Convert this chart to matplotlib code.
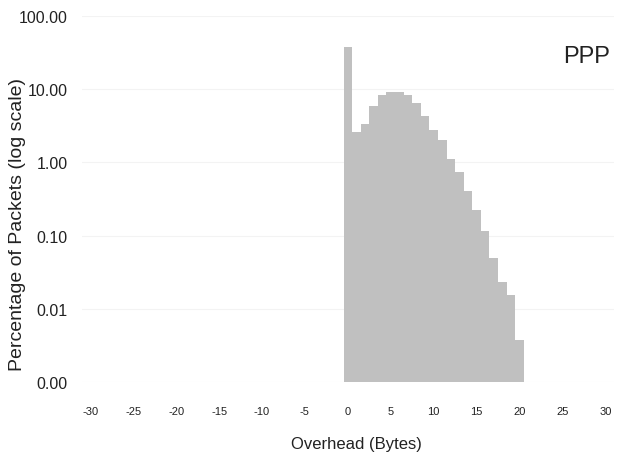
import matplotlib.pyplot as plt
from matplotlib.ticker import FixedLocator, FixedFormatter

plt.rcParams['font.family'] = ['Liberation Sans', 'DejaVu Sans']

# overhead in bytes and share of packets (%)
overhead = list(range(0, 21))
percent = [38.1, 2.60, 3.35, 5.89, 8.42, 9.16, 9.16, 8.42, 6.55, 4.30,
           2.80, 2.05, 1.12, 0.74, 0.41, 0.226, 0.117, 0.050, 0.0232,
           0.0155, 0.00375]

y_ticks = [0.001, 0.01, 0.1, 1, 10, 100]
y_labels = ['0.00', '0.01', '0.10', '1.00', '10.00', '100.00']
x_ticks = list(range(-30, 31, 5))

fig = plt.figure(figsize=(6.29, 4.56), dpi=100)
ax = fig.add_axes([0.130, 0.160, 0.846, 0.803])

ax.bar(overhead, [p - 0.001 for p in percent], bottom=0.001, width=1.0,
       color='#c0c0c0', linewidth=0)

ax.set_yscale('log')
ax.set_ylim(0.001, 100)
ax.set_xlim(-31, 31)
ax.yaxis.set_major_locator(FixedLocator(y_ticks))
ax.yaxis.set_major_formatter(FixedFormatter(y_labels))
ax.yaxis.set_minor_locator(FixedLocator([]))
ax.set_xticks(x_ticks)
ax.set_xticklabels([str(t) for t in x_ticks])

ax.grid(axis='y', color='#f3f3f3', linewidth=0.8)
ax.set_axisbelow(True)
for s in ax.spines.values():
    s.set_visible(False)
ax.tick_params(axis='y', length=0, pad=10, labelsize=11.5, labelcolor='#222222')
ax.tick_params(axis='x', length=0, pad=17, labelsize=8, labelcolor='#222222')

ax.set_xlabel('Overhead (Bytes)', fontsize=12, color='#222222')
ax.xaxis.set_label_coords(0.517, -0.147)
ax.set_ylabel('Percentage of Packets (log scale)', fontsize=14,
              color='#222222')
ax.yaxis.set_label_coords(-0.105, 0.432)
ax.text(0.992, 0.891, 'PPP', transform=ax.transAxes, ha='right',
        va='center', fontsize=17, color='#222222')

fig.savefig('out.png', dpi=100)
